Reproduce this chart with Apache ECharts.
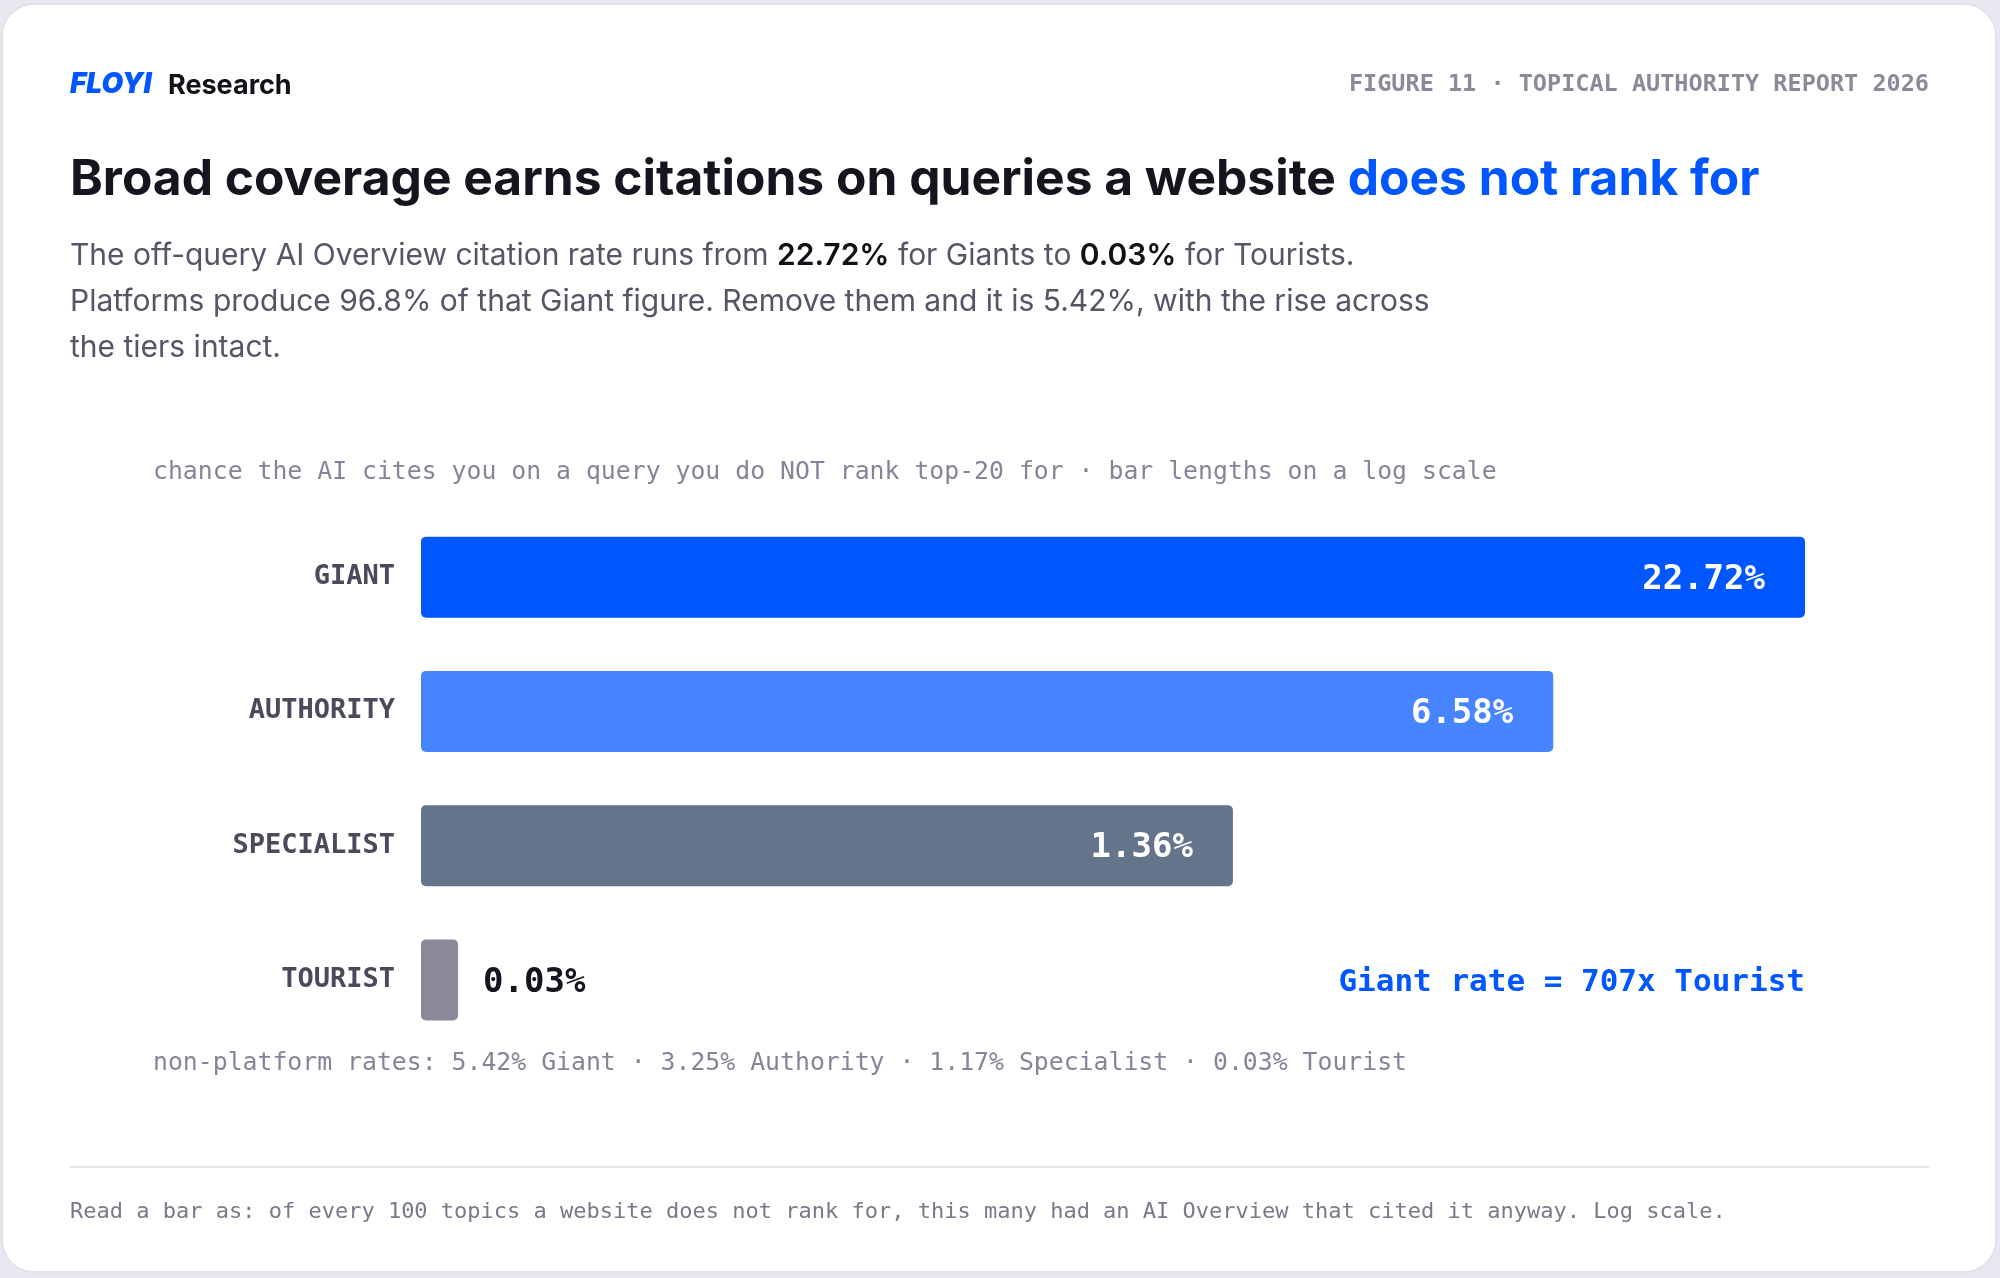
<!DOCTYPE html>
<html><head><meta charset="utf-8">
<script src="https://cdn.jsdelivr.net/npm/echarts@6/dist/echarts.min.js"></script>
<style>html,body{margin:0;padding:0;background:#e8e9f0;}#c{width:2000px;height:1278px;}</style>
</head><body><div id="c"></div>
<script>
const categories = ['GIANT','AUTHORITY','SPECIALIST','TOURIST'];
const rates = [22.72, 6.58, 1.36, 0.03];
const barColors = ['#0057FF','#4784FF','#64748B','#8B8A9B'];
const valueLabels = ['22.72%','6.58%','1.36%','0.03%'];
const axisMin = 0.025, axisMax = 22.72;

const mono = '"DejaVu Sans Mono", "Liberation Mono", monospace';
const sans = 'Inter, "Noto Sans", sans-serif';
const chart = echarts.init(document.getElementById('c'));
chart.setOption({
  backgroundColor: '#e8e9f0',
  animation: false,
  grid: {left: 421, right: 195, top: 510, bottom: 231},
  xAxis: {type: 'log', min: axisMin, max: axisMax, show: false},
  yAxis: {type: 'category', data: categories, inverse: true,
    axisLine: {show: false}, axisTick: {show: false},
    axisLabel: {margin: 26, fontFamily: mono, fontWeight: 'bold', fontSize: 27, color: '#4a4a5c'}},
  series: [{
    type: 'custom',
    data: rates.map((v, i) => [v, i]),
    renderItem: function (params, api) {
      const i = api.value(1);
      const v = api.value(0);
      const start = api.coord([axisMin, i]);
      const end = api.coord([v, i]);
      const h = 81;
      const inside = i < 3;
      return {type: 'group', children: [
        {type: 'rect', shape: {x: start[0], y: start[1] - h / 2, width: end[0] - start[0], height: h, r: 5},
         style: {fill: barColors[i]}},
        {type: 'text', x: inside ? end[0] - 40 : end[0] + 25, y: end[1] + 3,
         style: {text: valueLabels[i], font: 'bold 34px ' + mono, fill: inside ? '#fff' : '#15151f',
                 align: inside ? 'right' : 'left', verticalAlign: 'middle'}}
      ]};
    }
  }],
  graphic: [
    {type: 'rect', z: -10, shape: {x: 2, y: 4, width: 1994, height: 1268, r: 32}, style: {fill: '#fff', stroke: '#e2e3ea', lineWidth: 2}},
    {type: 'text', x: 70, y: 85, style: {text: 'FLOYI', font: 'italic 900 28px ' + sans, fill: '#0057FF', verticalAlign: 'middle'}},
    {type: 'text', x: 168, y: 86, style: {text: 'Research', font: 'bold 27px ' + sans, fill: '#111118', verticalAlign: 'middle'}},
    {type: 'text', x: 1929, y: 85, style: {text: 'FIGURE 11 · TOPICAL AUTHORITY REPORT 2026', font: 'bold 23.5px ' + mono, fill: '#8a8a9a', align: 'right', verticalAlign: 'middle'}},
    {type: 'text', x: 70, y: 180, style: {
      text: '{a|Broad coverage earns citations on queries a website }{b|does not rank for}',
      verticalAlign: 'middle',
      rich: {a: {font: 'bold 49.7px ' + sans, fill: '#15151f'}, b: {font: 'bold 49.7px ' + sans, fill: '#0057FF'}}}},
    {type: 'text', x: 70, y: 256, style: {
      text: '{n|The off-query AI Overview citation rate runs from }{b|22.72%}{n| for Giants to }{b|0.03%}{n| for Tourists.}',
      verticalAlign: 'middle',
      rich: {n: {font: '30px ' + sans, fill: '#555568'}, b: {font: '600 30px ' + sans, fill: '#111118'}}}},
    {type: 'text', x: 70, y: 302, style: {text: 'Platforms produce 96.8% of that Giant figure. Remove them and it is 5.42%, with the rise across', font: '30px ' + sans, fill: '#555568', verticalAlign: 'middle'}},
    {type: 'text', x: 70, y: 348, style: {text: 'the tiers intact.', font: '30px ' + sans, fill: '#555568', verticalAlign: 'middle'}},
    {type: 'text', x: 153, y: 473, style: {text: 'chance the AI cites you on a query you do NOT rank top-20 for · bar lengths on a log scale', font: '24.8px ' + mono, fill: '#85859a', verticalAlign: 'middle'}},
    {type: 'text', x: 1805, y: 983, style: {text: 'Giant rate = 707x Tourist', font: 'bold 31px ' + mono, fill: '#0057FF', align: 'right', verticalAlign: 'middle'}},
    {type: 'text', x: 153, y: 1064, style: {text: 'non-platform rates: 5.42% Giant · 3.25% Authority · 1.17% Specialist · 0.03% Tourist', font: '24.8px ' + mono, fill: '#85859a', verticalAlign: 'middle'}},
    {type: 'rect', shape: {x: 70, y: 1166, width: 1859, height: 2}, style: {fill: '#e4e5ec'}},
    {type: 'text', x: 70, y: 1212, style: {text: 'Read a bar as: of every 100 topics a website does not rank for, this many had an AI Overview that cited it anyway. Log scale.', font: '22px ' + mono, fill: '#787a8a', verticalAlign: 'middle'}}
  ]
});
</script></body></html>
